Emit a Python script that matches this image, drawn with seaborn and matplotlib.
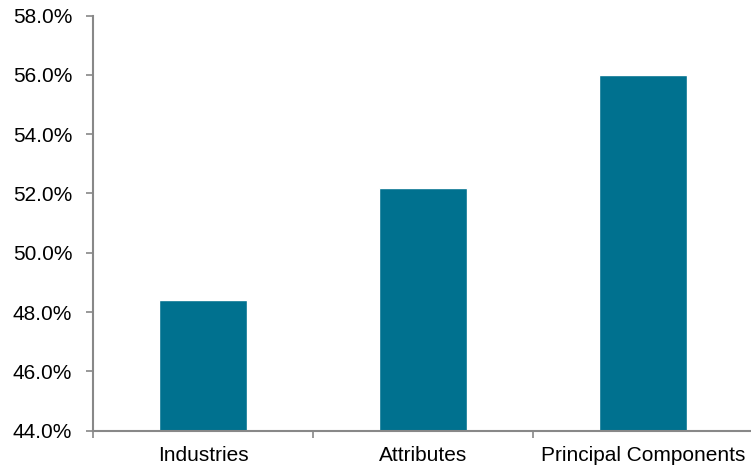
import matplotlib
matplotlib.use("Agg")
import matplotlib.pyplot as plt
import seaborn as sns
import pandas as pd
from matplotlib.ticker import FuncFormatter, FixedLocator

categories = ["Industries", "Attributes", "Principal Components"]
values = [48.4, 52.2, 56.0]
yticks = [44, 46, 48, 50, 52, 54, 56, 58]

sns.set_style("white")
plt.rcParams['font.family'] = ['Liberation Sans', 'DejaVu Sans']

df = pd.DataFrame({"cat": categories, "val": values})

fig = plt.figure(figsize=(7.51, 4.71), dpi=100)
ax = fig.add_axes([93/751, (471-430.7)/471, 660/751, 415.2/471])

sns.barplot(data=df, x="cat", y="val", color="#00718F", saturation=1, width=0.4, ax=ax)

ax.set_xlim(-0.5, 2.5)
ax.set_ylim(44, 58)
ax.set_yticks(yticks)
ax.yaxis.set_major_formatter(FuncFormatter(lambda v, p: f"{v:.1f}%"))
ax.set_xlabel("")
ax.set_ylabel("")

ax.xaxis.set_minor_locator(FixedLocator([-0.5, 0.5, 1.5]))
ax.tick_params(axis="x", which="major", length=0, labelsize=15, pad=11, labelcolor="black")
ax.tick_params(axis="x", which="minor", length=5, width=1.2, color="#888888", direction="out", bottom=True)
ax.tick_params(axis="y", length=5, width=1.2, color="#888888", direction="out", left=True, labelsize=15, pad=10, labelcolor="black")

for s in ["top", "right"]:
    ax.spines[s].set_visible(False)
for s in ["left", "bottom"]:
    ax.spines[s].set_color("#888888")
    ax.spines[s].set_linewidth(1.5)

fig.savefig("out.png", dpi=100)
